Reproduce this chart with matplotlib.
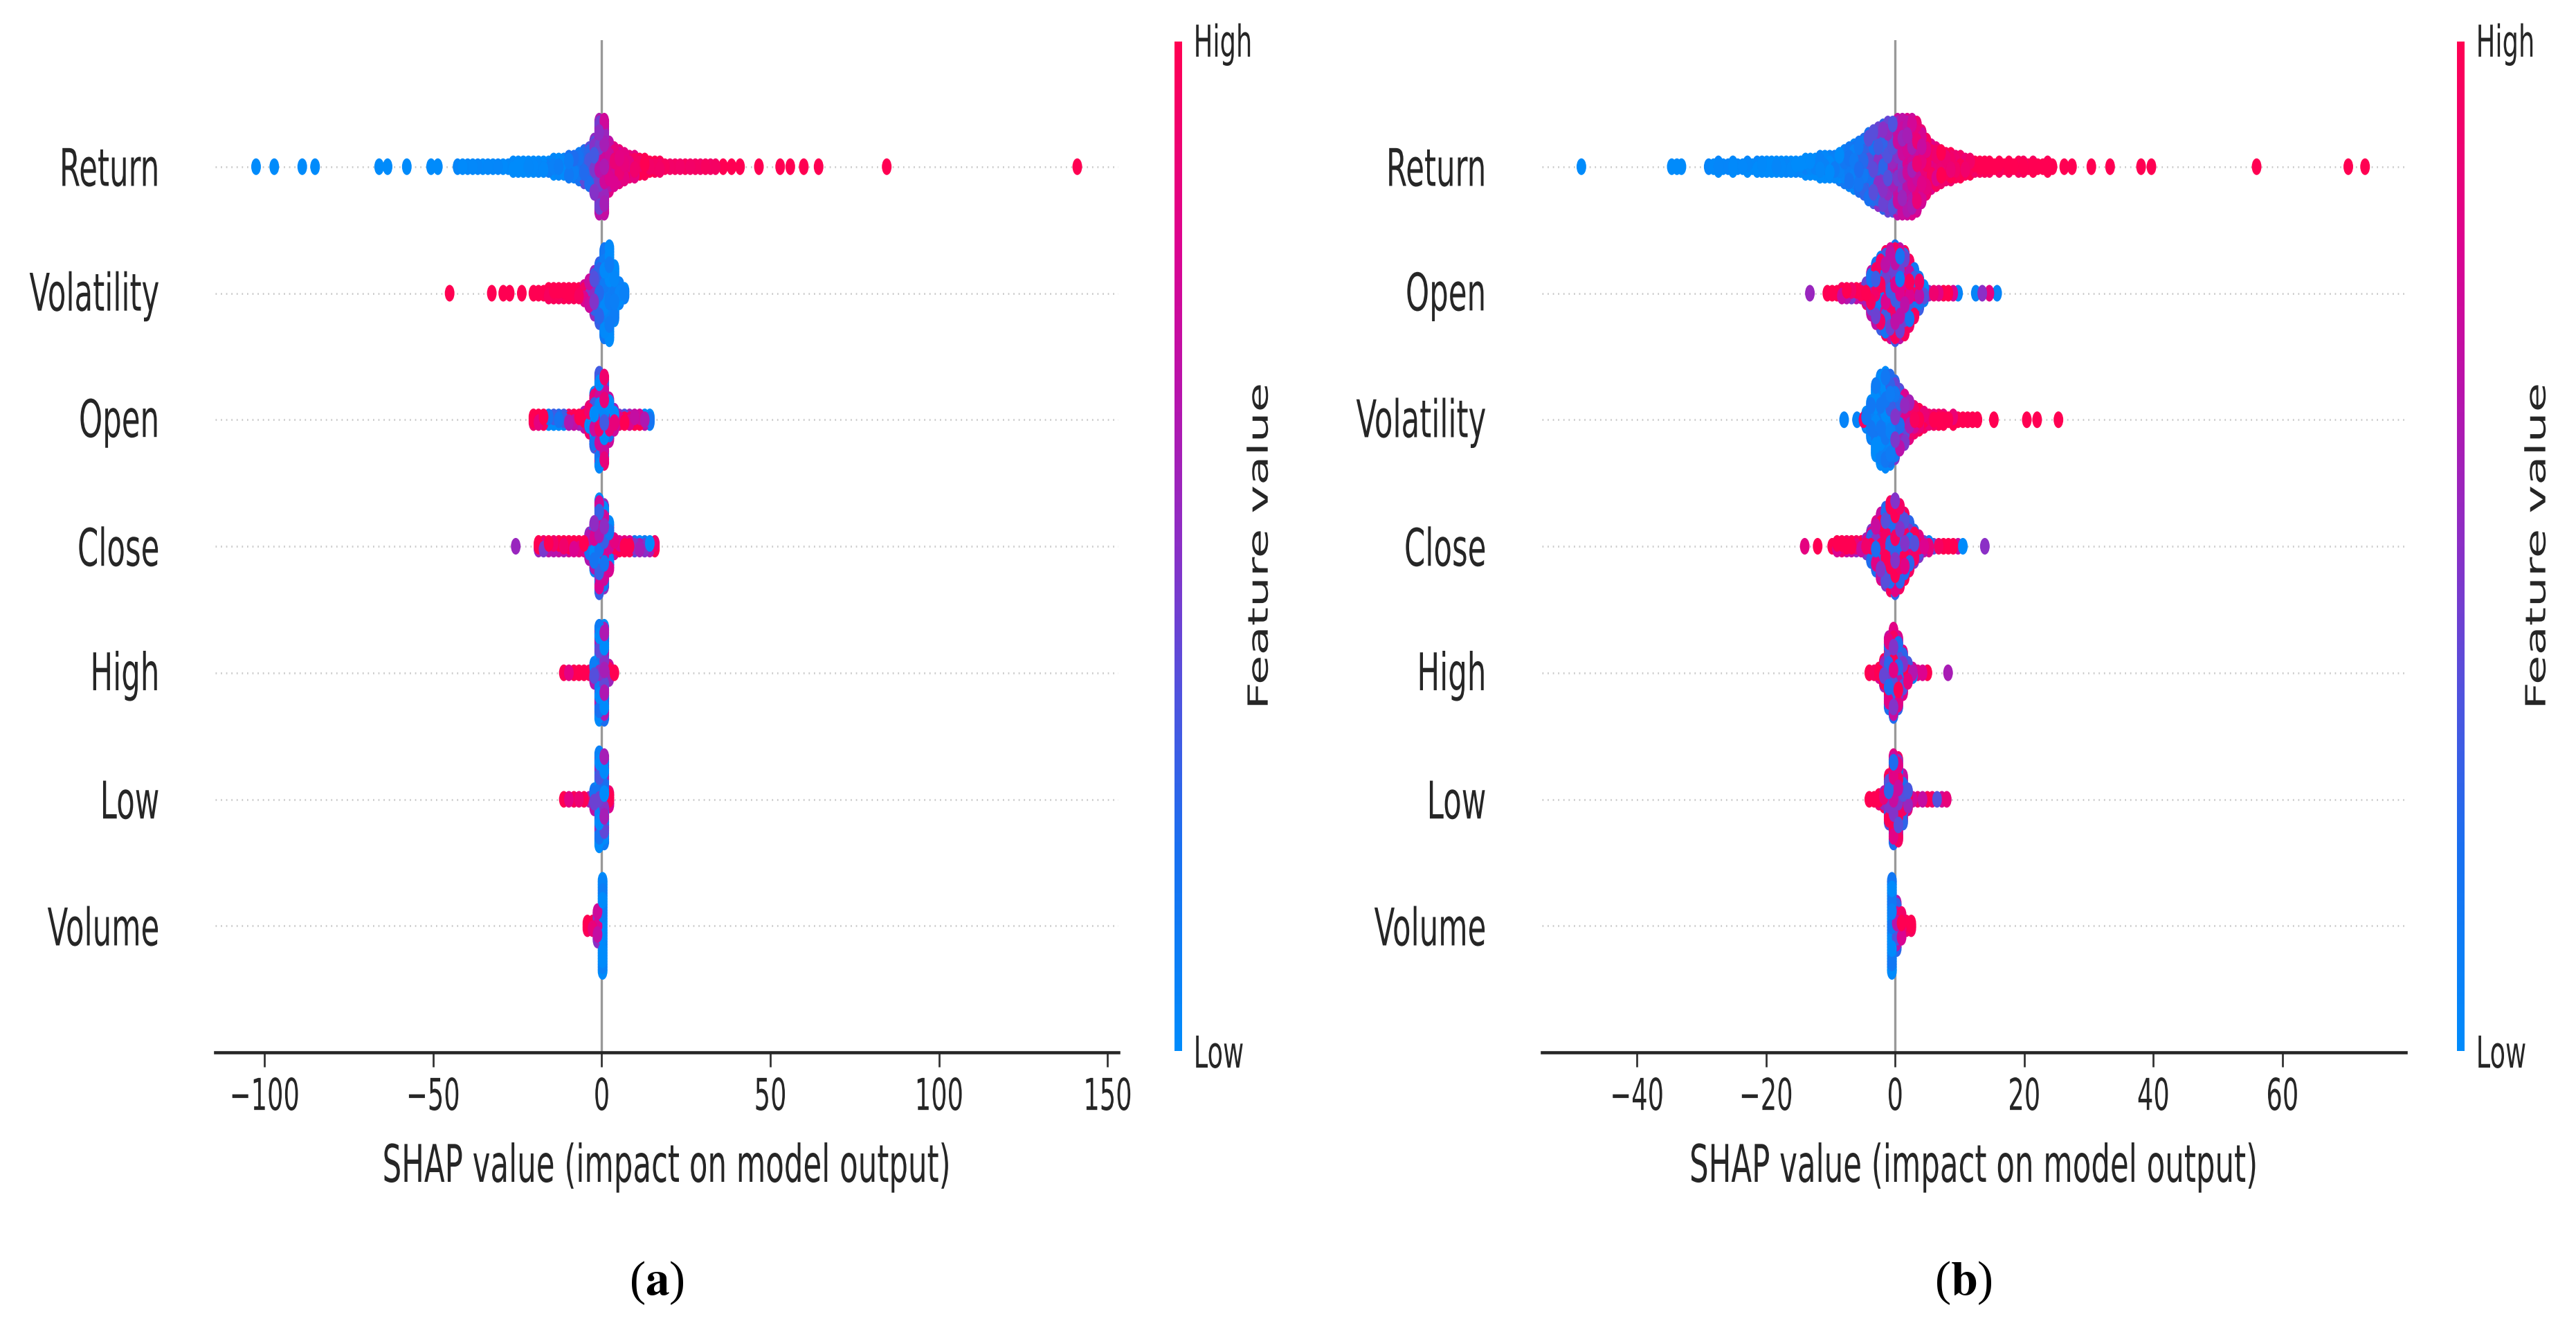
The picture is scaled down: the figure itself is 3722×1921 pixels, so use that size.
import numpy as np
import matplotlib
matplotlib.use('Agg')
import matplotlib.pyplot as plt
from matplotlib.colors import LinearSegmentedColormap, Normalize
from matplotlib.cm import ScalarMappable
from matplotlib.path import Path
from matplotlib.transforms import Affine2D
from matplotlib.patheffects import AbstractPathEffect

plt.rcParams['font.family'] = ['DejaVu Sans']
plt.rcParams['mathtext.fontset'] = 'stix'

# ---- data ----------------------------------------------------------------
# rows listed top -> bottom; each swarm = bins (first centre + fixed width),
# stacked dot layers per bin, mean feature value per bin (0 low .. 1 high),
# plus the isolated outlier dots.
features_a = ['Return', 'Volatility', 'Open', 'Close', 'High', 'Low', 'Volume']
features_b = ['Return', 'Open', 'Volatility', 'Close', 'High', 'Low', 'Volume']
bin_a = 1.5
bin_b = 0.75

a_return_start = -42.75
a_return_layers = [0, 0, 0, 0, 0, 0, 0, 0, 0, 0, 0, 1, 1, 1, 1, 1, 1, 1, 1,
                   2, 2, 2, 3, 3, 4, 5, 6, 9, 16, 16, 8, 6, 5, 4, 3, 3, 2, 2, 1, 1, 1,
                   0, 0, 0, 0, 0, 0, 0, 0, 0, 0, 0]
a_return_color = [0, 0, 0, 0, 0, 0, 0, 0, 0, 0, 0, 0, 0, 0, 0, 0, 0, 0,
                  0.05, 0.05, 0.05, 0.05, 0.15, 0.15, 0.15, 0.3, 0.3, 0.42, 0.55, 0.65,
                  0.75, 0.82, 0.82, 0.9, 0.9, 0.9,
                  0.97, 0.97, 0.97, 0.97, 0.97, 0.97, 0.97, 0.97, 0.97, 0.97, 0.97, 0.97,
                  0.97, 0.97, 0.97, 0.97]
a_return_out = [-102.5, -97.1, -88.8, -85.0, -66.0, -63.5, -57.8, -50.6, -48.6,
                36.0, 38.5, 41.0, 46.6, 52.9, 55.9, 59.9, 64.3, 84.5, 141.0]
a_return_out_c = [0, 0, 0, 0, 0, 0, 0, 0, 0, 1, 1, 1, 1, 1, 1, 1, 1, 1, 1]

a_volat_start = -20.25
a_volat_layers = [0, 0, 0, 1, 1, 1, 1, 1, 1, 1, 2, 4, 7, 10, 15, 16, 9, 3, 1]
a_volat_color = [1, 1, 1, 1, 1, 1, 1, 1, 1, 1, 0.85, 0.6, 0.4, 0.2, 0.08, 0.05, 0.05, 0.03, 0.03]
a_volat_out = [-45.1, -32.6, -29.2, -27.3, -23.7]
a_volat_out_c = [1, 1, 1, 1, 1]

a_open_start = -20.25
a_open_layers = [1, 1, 1, 1, 1, 1, 1, 1, 1, 1, 2, 4, 9, 16, 15, 7, 3, 1, 1, 1, 1, 1, 1, 1]
a_open_color = [1, 1, 1, 0.1, 0.1, 0.1, 0.1, 0.85, 0.85, 0.85, 0.85,
                0.45, 0.45, 0.45, 0.45, 0.45, 0.45, 0.7, 0.7, 0.7, 0.9, 0.9, 0.3, 0.05]
a_open_out = []
a_open_out_c = []

a_close_start = -18.75
a_close_layers = [1, 1, 1, 1, 1, 1, 1, 1, 1, 1, 4, 8, 16, 14, 8, 2, 1, 1, 1, 1, 1, 1, 1, 1]
a_close_color = [0.75, 0.75, 0.75, 0.85, 0.85, 0.85, 0.85, 0.95, 0.95, 0.95,
                 0.4, 0.4, 0.4, 0.4, 0.4, 0.95, 0.95, 0.95, 0.95, 0.3, 0.3, 0.3, 0.3, 0.95]
a_close_out = [-25.5]
a_close_out_c = [0.55]

a_high_start = -11.25
a_high_layers = [0, 0, 0, 0, 0, 0, 3, 16, 16, 2, 0]
a_high_color = [0.6, 0.75, 0.85, 0.9, 0.95, 0.9, 0.5, 0.3, 0.3, 0.8, 1.0]

a_low_start = -11.25
a_low_layers = [0, 0, 0, 0, 0, 0, 3, 16, 15, 2]
a_low_color = [0.75, 0.75, 0.65, 0.7, 0.6, 0.45, 0.55, 0.25, 0.3, 0.95]

a_volume_start = -4.25
a_volume_layers = [1, 1, 5, 16]
a_volume_color = [1.0, 0.95, 0.65, 0.03]

b_return_start = -28.875
b_return_layers = [0, 0, 1, 0, 0, 1, 0, 0, 1, 0, 1, 1, 1, 1, 1, 1, 1, 1, 1, 1,
                   2, 2, 2, 3, 3, 3, 3, 4,
                   5, 6, 7, 8, 9, 11, 12, 13, 14, 15, 15, 16, 16, 16, 16, 15, 12, 9,
                   7, 6, 5, 4, 4, 3, 3, 2, 2, 1,
                   1, 1, 1, 0, 1, 0, 1, 0, 1, 1, 0, 1, 0, 0, 1, 0]
b_return_color = [0, 0, 0, 0, 0, 0, 0, 0, 0, 0, 0, 0, 0, 0, 0, 0, 0, 0, 0, 0,
                  0.02, 0.02, 0.02, 0.02, 0.02, 0.02, 0.05, 0.05, 0.1, 0.1, 0.1,
                  0.18, 0.18, 0.28, 0.28, 0.38, 0.38, 0.5, 0.5, 0.6, 0.6, 0.7, 0.7,
                  0.8, 0.8, 0.88, 0.88, 0.88,
                  0.95, 0.95, 0.95, 0.95, 0.95, 0.95, 0.95, 0.95,
                  1, 1, 1, 1, 1, 1, 1, 1, 1, 1, 1, 1, 1, 1, 1, 1]
b_return_out = [-48.6, -34.6, -33.8, -33.1, 26.2, 27.4, 30.4, 33.3, 38.1, 39.7, 56.0, 70.2, 72.8]
b_return_out_c = [0, 0, 0, 0, 1, 1, 1, 1, 1, 1, 1, 1, 1]

b_open_start = -10.5
b_open_layers = [0, 0, 0, 1, 1, 1, 1, 1, 3, 7, 10, 12, 14, 15, 16, 15, 14, 11, 8, 5, 2,
                 0, 0, 0, 0, 0, 0, 0]
b_open_color = [0.95, 0.95, 0.95, 0.9, 0.8, 0.75, 0.8, 0.85, 0.7,
                0.55, 0.55, 0.55, 0.55, 0.55, 0.55, 0.55, 0.55, 0.55, 0.55, 0.55,
                0.15, 0.45, 0.5, 0.6, 0.75, 0.95, 0.95, 0.2]
b_open_out = [-13.2, 12.5, 13.5, 14.6, 15.8]
b_open_out_c = [0.55, 0.05, 0.5, 0.85, 0.05]

b_volat_start = -4.5
b_volat_layers = [2, 6, 12, 15, 16, 15, 13, 10, 8, 6, 4, 3, 2, 1, 1, 1, 1, 0, 1, 0, 0, 0, 0, 0]
b_volat_color = [0.05, 0.05, 0.05, 0.05, 0.05, 0.15, 0.3, 0.45, 0.6, 0.75, 0.85,
                 0.97, 0.97, 0.97, 0.97, 0.97, 0.97, 0.97, 0.97, 0.97, 0.97, 0.97, 0.97, 0.97]
b_volat_out = [-7.9, -5.9, -4.9, 15.3, 20.4, 22.0, 25.3]
b_volat_out_c = [0.05, 0.05, 0.95, 1, 1, 1, 1]

b_close_start = -9.75
b_close_layers = [0, 1, 1, 1, 1, 1, 1, 2, 5, 8, 11, 13, 15, 16, 14, 11, 8, 5, 3, 1, 1,
                  0, 0, 0, 0, 0, 0, 0]
b_close_color = [1.0, 0.95, 0.95, 0.9, 0.85, 0.8, 0.8, 0.75,
                 0.6, 0.6, 0.6, 0.6, 0.6, 0.6, 0.6, 0.6, 0.6, 0.6,
                 0.6, 0.55, 0.45, 0.3, 0.6, 0.9, 0.95, 0.95, 0.9, 0.05]
b_close_out = [-14.0, -12.0, 13.9]
b_close_out_c = [0.85, 1.0, 0.5]

b_high_start = -4.0
b_high_layers = [0, 0, 1, 4, 12, 15, 12, 7, 3, 1, 0, 0, 0]
b_high_color = [0.9, 0.9, 0.85, 0.7, 0.6, 0.6, 0.6, 0.6, 0.65, 0.5, 0.45, 0.55, 0.95]
b_high_out = [8.2]
b_high_out_c = [0.6]

b_low_start = -4.0
b_low_layers = [0, 0, 1, 2, 8, 15, 14, 8, 3, 0, 0, 0, 0, 0, 0, 0, 0]
b_low_color = [1.0, 1.0, 0.95, 0.8, 0.6, 0.6, 0.6, 0.6, 0.65, 0.65, 0.5, 0.45, 0.6, 0.85,
               0.15, 0.5, 0.45]

b_volume_start = -0.5
b_volume_layers = [16, 8, 4, 1, 1]
b_volume_color = [0.05, 0.5, 0.9, 1.0, 1.0]

# how speckled (mixed high/low) each row looks
mix_a = [0.25, 0.3, 1.0, 0.9, 0.9, 0.9, 0.4]
mix_b = [0.3, 0.9, 0.5, 0.9, 0.9, 0.9, 0.5]

xticks_a = [-100, -50, 0, 50, 100, 150]
xticks_b = [-40, -20, 0, 20, 40, 60]

# ---- style ----------------------------------------------------------------
W, H = 3723, 1921
SQ = 0.58          # the source image is squeezed horizontally
LAYER = 0.0225     # vertical step between stacked dots (row units)
DOT = 300
MIX_PATTERN = [0.5, -0.5, 0.3, -0.3, 0.45, -0.45, 0.15, -0.15]

cmap = LinearSegmentedColormap.from_list('shap_red_blue', [
    (0.0, '#008bfb'), (0.2, '#1a6ff0'), (0.35, '#4f53de'), (0.5, '#8a2fc6'),
    (0.65, '#b713ac'), (0.8, '#dc0390'), (1.0, '#ff0052')])

_c = Path.unit_circle()
ELLIPSE = Path(_c.vertices * np.array([SQ, 1.0]), _c.codes)


class Stretch(AbstractPathEffect):
    """scale the drawn glyphs about their own centre (the source is resized unevenly)"""
    def __init__(self, sx=1.0, sy=1.0):
        super().__init__()
        self.sx = sx
        self.sy = sy

    def draw_path(self, renderer, gc, tpath, affine, rgbFace=None):
        ext = tpath.get_extents(affine)
        cx = 0.5 * (ext.x0 + ext.x1)
        cy = 0.5 * (ext.y0 + ext.y1)
        aff = affine + Affine2D().translate(-cx, -cy).scale(self.sx, self.sy).translate(cx, cy)
        renderer.draw_path(gc, tpath, aff, rgbFace)


TALL = [Stretch(sy=1 / SQ)]      # narrow font size, drawn taller
THIN = [Stretch(sx=SQ)]          # for the rotated colour bar label


def beeswarm(ax, pos, start, step, layers, colors, mix, out_x, out_c):
    assert len(layers) == len(colors)
    xs, ys, cs = [], [], []
    for i, (n, m) in enumerate(zip(layers, colors)):
        w = mix * (1 - 0.7 * abs(2 * m - 1))
        for j in range(-n, n + 1):
            k = int(((i * 0.7548777 + j * 0.5698403) % 1.0) * len(MIX_PATTERN))
            xs.append(start + i * step)
            ys.append(pos + j * LAYER)
            cs.append(m + w * MIX_PATTERN[k])
    xs += list(out_x)
    ys += [pos] * len(out_x)
    cs += list(out_c)
    order = np.argsort((np.arange(len(xs)) * 0.6180339887) % 1.0)
    ax.scatter(np.array(xs)[order], np.array(ys)[order],
               c=np.clip(np.array(cs)[order], 0, 1), cmap=cmap, vmin=0, vmax=1,
               s=DOT, marker=ELLIPSE, linewidths=0, zorder=3)


def panel(ax, cax, names, rows, step, mixes, xlim, xticks, label_x, tag):
    n = len(names)
    ax.set_xlim(*xlim)
    ax.set_ylim(-1, n)
    for k in range(n):
        ax.axhline(k, color='#cccccc', lw=2.1, dashes=(0.6, 2.0), zorder=-1)
    ax.axvline(0, color='#999999', lw=2.4, zorder=-1)
    for k, row in enumerate(rows):
        beeswarm(ax, n - 1 - k, row[0], step, row[1], row[2], mixes[k], row[3], row[4])

    ax.set_yticks(range(n))
    ax.set_yticklabels(names[::-1])
    ax.tick_params(axis='y', length=0, pad=58, labelsize=54 * SQ, labelcolor='#262626')
    ax.set_xticks(xticks)
    ax.tick_params(axis='x', length=15, width=2.0, pad=17, labelsize=45.7 * SQ,
                   labelcolor='#262626', color='#333333')
    for s in ['top', 'right', 'left']:
        ax.spines[s].set_visible(False)
    ax.spines['bottom'].set_linewidth(3.3)
    ax.spines['bottom'].set_color('#262626')
    ax.set_xlabel('SHAP value (impact on model output)', fontsize=54 * SQ, labelpad=46,
                  color='#262626')

    sm = ScalarMappable(norm=Normalize(0, 1), cmap=cmap)
    sm.set_array([0, 1])
    cb = fig.colorbar(sm, cax=cax, ticks=[0, 1])
    cb.set_ticklabels(['Low', 'High'])
    cb.ax.tick_params(length=0, labelsize=45.7 * SQ, pad=12, labelcolor='#262626')
    cb.outline.set_visible(False)

    fig.text(label_x / W, 1 - 789 / H, 'Feature value', rotation=90, ha='center',
             va='center', fontsize=49.8, color='#262626', path_effects=THIN)
    pos = ax.get_position()
    fig.text((pos.x0 + pos.x1) / 2 - 0.004, 1 - 1853 / H, tag,
             ha='center', va='center', fontsize=50, family='Liberation Serif')

    for lab in ax.get_yticklabels() + ax.get_xticklabels() + cb.ax.get_yticklabels():
        lab.set_path_effects(TALL)
    ax.xaxis.label.set_path_effects(TALL)


rows_a = [
    (a_return_start, a_return_layers, a_return_color, a_return_out, a_return_out_c),
    (a_volat_start, a_volat_layers, a_volat_color, a_volat_out, a_volat_out_c),
    (a_open_start, a_open_layers, a_open_color, a_open_out, a_open_out_c),
    (a_close_start, a_close_layers, a_close_color, a_close_out, a_close_out_c),
    (a_high_start, a_high_layers, a_high_color, [], []),
    (a_low_start, a_low_layers, a_low_color, [], []),
    (a_volume_start, a_volume_layers, a_volume_color, [], []),
]
rows_b = [
    (b_return_start, b_return_layers, b_return_color, b_return_out, b_return_out_c),
    (b_open_start, b_open_layers, b_open_color, b_open_out, b_open_out_c),
    (b_volat_start, b_volat_layers, b_volat_color, b_volat_out, b_volat_out_c),
    (b_close_start, b_close_layers, b_close_color, b_close_out, b_close_out_c),
    (b_high_start, b_high_layers, b_high_color, b_high_out, b_high_out_c),
    (b_low_start, b_low_layers, b_low_color, [], []),
    (b_volume_start, b_volume_layers, b_volume_color, [], []),
]

fig = plt.figure(figsize=(W / 100, H / 100), dpi=100)
ax_a = fig.add_axes([311 / W, 1 - 1520 / H, 1305 / W, 1462 / H])
ax_b = fig.add_axes([2228 / W, 1 - 1520 / H, 1248 / W, 1462 / H])
cax_a = fig.add_axes([1697 / W, 1 - 1518 / H, 11 / W, 1458 / H])
cax_b = fig.add_axes([3550 / W, 1 - 1518 / H, 11 / W, 1458 / H])

panel(ax_a, cax_a, features_a, rows_a, bin_a, mix_a, (-114.6, 153.2), xticks_a, 1823,
      r'($\mathbf{a}$)')
panel(ax_b, cax_b, features_b, rows_b, bin_b, mix_b, (-54.7, 79.1), xticks_b, 3669,
      r'($\mathbf{b}$)')

fig.savefig('out.png', dpi=100, facecolor='white')
